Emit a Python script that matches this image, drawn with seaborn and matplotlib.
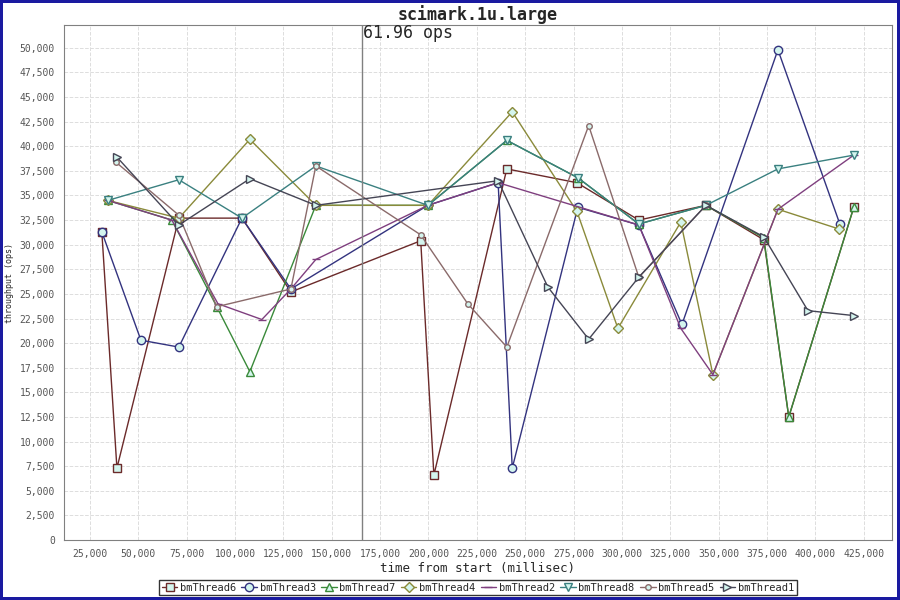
import matplotlib
matplotlib.use("Agg")
import matplotlib.pyplot as plt
import seaborn as sns
import pandas as pd
from matplotlib.ticker import FuncFormatter, MultipleLocator

# data (time ms, ops)
t6_x = [31200, 39000, 71000, 103600, 128900, 196000, 202800, 240500, 276700, 308700, 343400, 373300, 386200, 419800]
t6_y = [31300, 7300, 32700, 32700, 25200, 30400, 6600, 37700, 36300, 32500, 34000, 30500, 12500, 33800]
t3_x = [31200, 51400, 71000, 103600, 128900, 199700, 236000, 243300, 277200, 308700, 331000, 380600, 412600]
t3_y = [31300, 20300, 19600, 32700, 25500, 34000, 36300, 7300, 33800, 32000, 21900, 49800, 32100]
t7_x = [34300, 67400, 90600, 107700, 141800, 199700, 240500, 277200, 308700, 343400, 373300, 386200, 419800]
t7_y = [34500, 32500, 23700, 17100, 34000, 34000, 40600, 36800, 32100, 34000, 30700, 12500, 33800]
t4_x = [34300, 71000, 107700, 141800, 199700, 243300, 276700, 297900, 330400, 347000, 380600, 412100]
t4_y = [34500, 32700, 40700, 34000, 34000, 43500, 33400, 21500, 32300, 16800, 33600, 31600]
t2_x = [34300, 67400, 91200, 113900, 128900, 141800, 199700, 236000, 308700, 330400, 347000, 380600, 419800]
t2_y = [34500, 32500, 24000, 22400, 25500, 28500, 34000, 36300, 32000, 21500, 16800, 33600, 39100]
t8_x = [34300, 71000, 103600, 141800, 199700, 240500, 277200, 308700, 343400, 380600, 419800]
t8_y = [34500, 36600, 32700, 38000, 34000, 40600, 36800, 32100, 34000, 37700, 39100]
t5_x = [38400, 71000, 90600, 128900, 141800, 196000, 220300, 240500, 282800, 308700, 343400]
t5_y = [38400, 33000, 23700, 25500, 38000, 31000, 24000, 19600, 42100, 26700, 34000]
t1_x = [39000, 71000, 107700, 141800, 236000, 261700, 282800, 308700, 343400, 373300, 396100, 419800]
t1_y = [38900, 32000, 36700, 34000, 36500, 25700, 20400, 26700, 34000, 30800, 23300, 22800]

names = ["bmThread6", "bmThread3", "bmThread7", "bmThread4", "bmThread2", "bmThread8", "bmThread5", "bmThread1"]
series = [(t6_x, t6_y), (t3_x, t3_y), (t7_x, t7_y), (t4_x, t4_y),
          (t2_x, t2_y), (t8_x, t8_y), (t5_x, t5_y), (t1_x, t1_y)]
colors = ["#6b2a2a", "#33337f", "#3a8a3a", "#8a8a3a", "#7f3f7f", "#3a8080", "#8a6a6a", "#454555"]
markers = ["s", "o", "^", "D", "_", "v", "o", ">"]
msizes = [6, 6, 6, 5, 6, 6, 4, 6]

marker_line = 165600

sns.set_style("whitegrid")
plt.rcParams['font.family'] = ['DejaVu Sans Mono', 'DejaVu Sans']

fig, ax = plt.subplots(figsize=(9, 6), dpi=100)
fig.patch.set_edgecolor("#1a1aa0")
fig.patch.set_linewidth(3)

for name, (xs, ys), c, m, ms in zip(names, series, colors, markers, msizes):
    df = pd.DataFrame({"x": xs, "y": ys})
    sns.lineplot(data=df, x="x", y="y", ax=ax, color=c, linewidth=1, marker=m,
                 markersize=ms, markerfacecolor="#d4f5ee", markeredgecolor=c,
                 markeredgewidth=1, label=name)

ax.axvline(marker_line, color="#808080", linewidth=1)
ax.text(marker_line + 500, 52400, "61.96 ops", fontsize=12, va="top", ha="left")

ax.set_xlim(11600, 439500)
ax.set_ylim(0, 52300)
ax.xaxis.set_major_locator(MultipleLocator(25000))
ax.yaxis.set_major_locator(MultipleLocator(2500))
fmt = FuncFormatter(lambda v, p: f"{int(v):,}")
ax.xaxis.set_major_formatter(fmt)
ax.yaxis.set_major_formatter(fmt)
ax.tick_params(labelsize=7, colors="#555555", length=3)
ax.grid(True, color="#dddddd", linestyle="--", linewidth=0.7)
for s in ax.spines.values():
    s.set_color("#808080")
ax.set_xlabel("time from start (millisec)", fontsize=9, labelpad=2)
ax.set_ylabel("throughput (ops)", fontsize=6)
ax.set_title("scimark.1u.large", fontsize=12, fontweight="bold", pad=4)

leg = ax.legend(loc="upper center", bbox_to_anchor=(0.5, -0.068), ncol=8, fontsize=7.5,
                frameon=True, fancybox=False, handlelength=1.5, columnspacing=0.5,
                handletextpad=0.25, borderpad=0.25)
leg.get_frame().set_edgecolor("black")

plt.subplots_adjust(left=0.071, right=0.991, top=0.958, bottom=0.1)
fig.savefig("out.png", dpi=100, edgecolor=fig.get_edgecolor())
